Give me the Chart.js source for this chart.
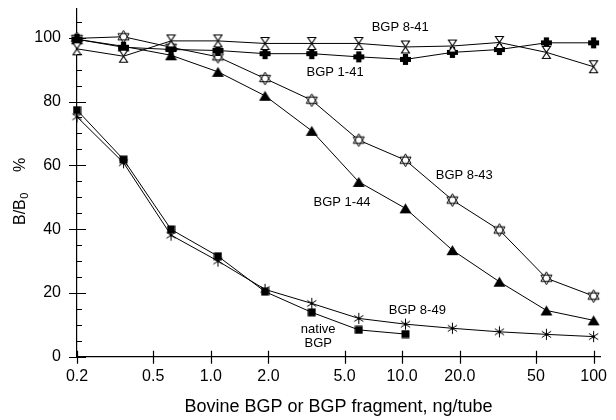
<!DOCTYPE html>
<html>
<head>
<meta charset="utf-8">
<script src="https://cdn.jsdelivr.net/npm/chart.js@4/dist/chart.umd.min.js"></script>
<style>
html,body{margin:0;padding:0;background:#fff;}
#wrap{width:616px;height:420px;position:relative;}
</style>
</head>
<body>
<div id="wrap"><canvas id="c" width="616" height="420"></canvas></div>
<script>
// ---- data ----
const doses = [0.2, 0.35, 0.62, 1.09, 1.92, 3.37, 5.93, 10.4, 18.3, 32.2, 56.7, 100];
const bgp841 = [96.5, 94.2, 99.0, 99.0, 98.2, 98.2, 98.2, 97.1, 97.4, 98.5, 95.4, 90.9];
const bgp141 = [99.5, 97.0, 96.3, 96.0, 95.0, 95.0, 94.0, 93.2, 95.4, 96.3, 98.4, 98.4];
const bgp843 = [99.8, 100.3, 97.0, 94.0, 87.2, 80.4, 67.9, 61.6, 49.1, 39.7, 24.6, 19.0];
const bgp144 = [99.5, 97.3, 94.5, 89.3, 81.8, 70.8, 54.8, 46.5, 33.4, 23.5, 14.5, 11.4];
const nativeBGP = [77.3, 61.8, 39.9, 31.5, 20.4, 13.9, 8.4, 7.1];
const bgp849 = [75.2, 60.8, 38.1, 30.0, 21.1, 16.7, 12.0, 10.2, 8.9, 7.8, 7.0, 6.3];

const xTickValues = [0.2, 0.5, 1, 2, 5, 10, 20, 50, 100];
const xTickLabels = ["0.2", "0.5", "1.0", "2.0", "5.0", "10.0", "20.0", "50", "100"];
const yTickValues = [0, 20, 40, 60, 80, 100];
const yMinorStep = 5;

const noteTexts = ["BGP 8-41", "BGP 1-41", "BGP 8-43", "BGP 1-44", "BGP 8-49", "native", "BGP"];
const noteX = [9.76, 4.46, 21.1, 4.85, 12.0, 3.64, 3.64];
const noteY = [103.3, 89.2, 56.9, 48.5, 14.6, 8.7, 4.3];

// ---- marker images ----
function marker(w, h, draw) {
  const c = document.createElement('canvas');
  c.width = w; c.height = h;
  const g = c.getContext('2d');
  g.lineWidth = 1.1; g.strokeStyle = '#000'; g.fillStyle = '#000';
  draw(g, w, h);
  return c;
}
const mHourglass = marker(11, 15, (g, w, h) => {
  g.beginPath();
  g.moveTo(1.5, 1.5); g.lineTo(w - 1.5, 1.5); g.lineTo(1.5, h - 1.5); g.lineTo(w - 1.5, h - 1.5); g.closePath();
  g.fillStyle = '#fff'; g.fill(); g.stroke();
});
const mPlus = marker(13, 13, (g, w, h) => {
  const a = 2.6, c = w / 2;
  g.beginPath();
  g.moveTo(c - a, 1); g.lineTo(c + a, 1); g.lineTo(c + a, c - a); g.lineTo(w - 1, c - a);
  g.lineTo(w - 1, c + a); g.lineTo(c + a, c + a); g.lineTo(c + a, h - 1); g.lineTo(c - a, h - 1);
  g.lineTo(c - a, c + a); g.lineTo(1, c + a); g.lineTo(1, c - a); g.lineTo(c - a, c - a); g.closePath();
  g.fill();
});
const mStar = marker(15, 15, (g, w, h) => {
  const cx = w / 2, cy = h / 2, r = 6.4;
  g.lineWidth = 1;
  function tri(k) {
    g.beginPath();
    for (let i = 0; i < 3; i++) {
      const ang = -Math.PI / 2 + k * Math.PI + i * 2 * Math.PI / 3;
      const px = cx + r * Math.cos(ang), py = cy + r * Math.sin(ang);
      if (i === 0) g.moveTo(px, py); else g.lineTo(px, py);
    }
    g.closePath();
  }
  g.fillStyle = '#fff';
  tri(0); g.fill(); tri(1); g.fill();
  tri(0); g.stroke(); tri(1); g.stroke();
});
const mTri = marker(13, 12, (g, w, h) => {
  g.beginPath(); g.moveTo(w / 2, 1); g.lineTo(w - 0.5, h - 1); g.lineTo(0.5, h - 1); g.closePath(); g.fill();
});
const mSquare = marker(9, 9, (g, w, h) => { g.fillRect(0.5, 0.5, 8, 8); });
const mAster = marker(13, 13, (g, w, h) => {
  const cx = w / 2, cy = h / 2, r = 5.6;
  g.lineWidth = 1;
  g.beginPath();
  [Math.PI / 2, Math.PI / 2 + Math.PI / 3.2, Math.PI / 2 - Math.PI / 3.2].forEach(a2 => {
    g.moveTo(cx + r * Math.cos(a2), cy + r * Math.sin(a2));
    g.lineTo(cx - r * Math.cos(a2), cy - r * Math.sin(a2));
  });
  g.stroke();
  g.beginPath(); g.arc(cx, cy, 1.5, 0, Math.PI * 2); g.fill();
});

function ds(label, vals, img) {
  return {
    label: label,
    data: vals.map((v, i) => ({ x: doses[i], y: v })),
    borderColor: '#000', borderWidth: 1, backgroundColor: '#000',
    pointStyle: img, pointRadius: 6, pointHoverRadius: 6,
    tension: 0, fill: false, clip: false
  };
}

const ticksPlugin = {
  id: 'ticksPlugin',
  afterDraw(chart) {
    const g = chart.ctx, xs = chart.scales.x, ys = chart.scales.y, ca = chart.chartArea;
    g.save();
    g.strokeStyle = '#000'; g.lineWidth = 1.2;
    g.beginPath();
    for (let v = 0; v <= 105; v += yMinorStep) {
      const py = Math.round(ys.getPixelForValue(v)) + 0.5;
      if (v % 20 === 0) { g.moveTo(ca.left - 8, py); g.lineTo(ca.left + 9, py); }
      else { g.moveTo(ca.left, py); g.lineTo(ca.left + 5, py); }
    }
    xTickValues.forEach(v => {
      const px = Math.round(xs.getPixelForValue(v)) + 0.5;
      g.moveTo(px, ca.bottom - 6); g.lineTo(px, ca.bottom + 7);
    });
    g.stroke();
    // annotations
    g.fillStyle = '#000';
    g.font = '13px "Liberation Sans", Arial, sans-serif';
    g.textAlign = 'center'; g.textBaseline = 'middle';
    noteTexts.forEach((t, i) => {
      g.fillText(t, xs.getPixelForValue(noteX[i]), ys.getPixelForValue(noteY[i]));
    });
    // y axis title  B/B0 %
    g.translate(25, 225);
    g.rotate(-Math.PI / 2);
    g.textAlign = 'left'; g.textBaseline = 'alphabetic';
    g.font = '16px "Liberation Sans", Arial, sans-serif';
    g.fillText('B/B', 0, 0);
    const w = g.measureText('B/B').width;
    g.font = '11px "Liberation Sans", Arial, sans-serif';
    g.fillText('0', w + 0.5, 3);
    g.font = '16px "Liberation Sans", Arial, sans-serif';
    g.textAlign = 'center';
    g.fillText('%', 60, 0);
    g.restore();
  }
};

new Chart(document.getElementById('c'), {
  type: 'line',
  data: {
    datasets: [
      ds('BGP 8-41', bgp841, mHourglass),
      ds('BGP 1-41', bgp141, mPlus),
      ds('BGP 8-43', bgp843, mStar),
      ds('BGP 1-44', bgp144, mTri),
      ds('native BGP', nativeBGP, mSquare),
      ds('BGP 8-49', bgp849, mAster)
    ]
  },
  options: {
    responsive: false,
    animation: false,
    devicePixelRatio: 1,
    layout: { padding: { top: 9, right: 16, left: 0, bottom: 0 } },
    plugins: { legend: { display: false }, tooltip: { enabled: false } },
    scales: {
      x: {
        type: 'logarithmic', min: 0.2, max: 108,
        grid: { display: false, drawTicks: false },
        border: { display: true, color: '#000', width: 1.2 },
        afterBuildTicks(s) { s.ticks = xTickValues.map(v => ({ value: v })); },
        afterFit(s) { s.height = 63.3; s.paddingLeft = 0; s.paddingRight = 0; },
        ticks: {
          autoSkip: false, maxRotation: 0, color: '#000', padding: 10,
          font: { family: '"Liberation Sans", Arial, sans-serif', size: 16 },
          callback: (val, idx) => xTickLabels[idx]
        },
        title: {
          display: true, text: 'Bovine BGP or BGP fragment, ng/tube', color: '#000',
          font: { family: '"Liberation Sans", Arial, sans-serif', size: 18 },
          padding: { top: 0, bottom: 2 }
        }
      },
      y: {
        type: 'linear', min: 0, max: 109,
        grid: { display: false, drawTicks: false },
        border: { display: true, color: '#000', width: 1.2 },
        afterBuildTicks(s) { s.ticks = yTickValues.map(v => ({ value: v })); },
        afterFit(s) { s.width = 77; s.paddingTop = 0; s.paddingBottom = 0; },
        ticks: {
          color: '#000', padding: 16,
          font: { family: '"Liberation Sans", Arial, sans-serif', size: 16 },
          callback: v => String(v)
        }
      }
    }
  },
  plugins: [ticksPlugin]
});
</script>
</body>
</html>
